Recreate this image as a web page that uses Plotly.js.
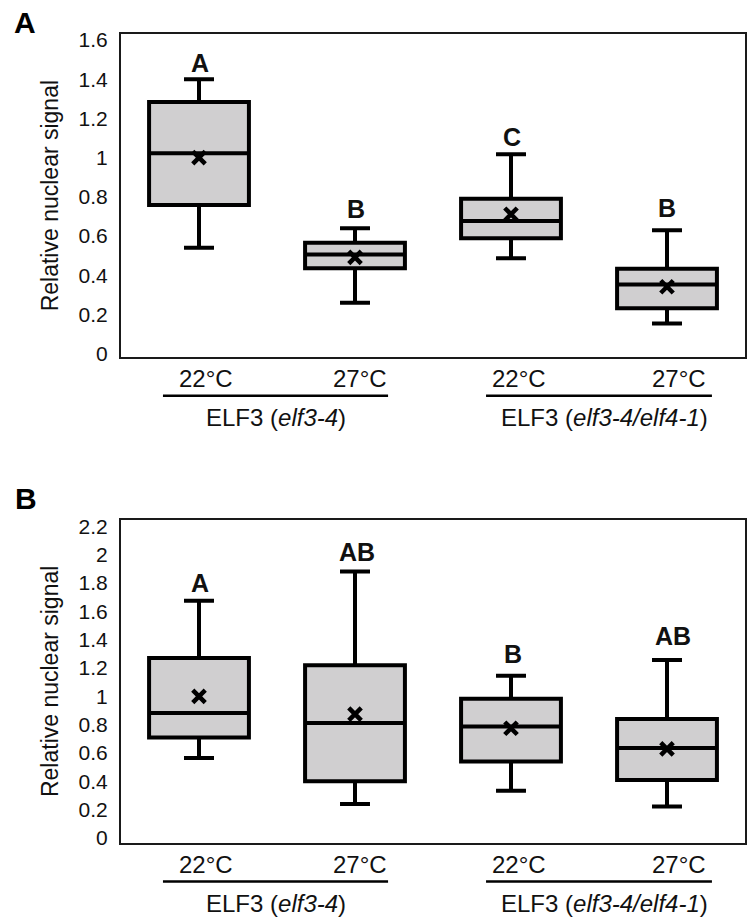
<!DOCTYPE html>
<html>
<head>
<meta charset="utf-8">
<script src="https://cdn.plot.ly/plotly-3.0.1.min.js"></script>
<style>html,body{margin:0;padding:0;background:#fff;}#chart{width:747px;height:922px;}</style>
</head>
<body>
<div id="chart"></div>
<script>
// ---- data ----
const conditions = ['ELF3 (elf3-4) 22°C', 'ELF3 (elf3-4) 27°C', 'ELF3 (elf3-4/elf4-1) 22°C', 'ELF3 (elf3-4/elf4-1) 27°C'];
const temps = ['22°C', '27°C', '22°C', '27°C'];
const genotypes = ['ELF3 (<i>elf3-4</i>)', 'ELF3 (<i>elf3-4/elf4-1</i>)'];
const yTitle = 'Relative nuclear signal';

// Panel A
const lowA  = [0.540, 0.259, 0.486, 0.154];
const q1A   = [0.758, 0.435, 0.588, 0.231];
const medA  = [1.022, 0.506, 0.676, 0.353];
const q3A   = [1.284, 0.566, 0.790, 0.433];
const upA   = [1.400, 0.639, 1.017, 0.629];
const meanA = [1.000, 0.491, 0.711, 0.341];
const lettersA = ['A', 'B', 'C', 'B'];
const ticksA = [0, 0.2, 0.4, 0.6, 0.8, 1, 1.2, 1.4, 1.6];

// Panel B
const lowB  = [0.565, 0.240, 0.334, 0.223];
const q1B   = [0.710, 0.400, 0.541, 0.409];
const medB  = [0.883, 0.812, 0.788, 0.635];
const q3B   = [1.271, 1.219, 0.983, 0.840];
const upB   = [1.675, 1.882, 1.146, 1.257];
const meanB = [1.000, 0.875, 0.775, 0.630];
const lettersB = ['A', 'AB', 'B', 'AB'];
const ticksB = [0, 0.2, 0.4, 0.6, 0.8, 1, 1.2, 1.4, 1.6, 1.8, 2, 2.2];

// ---- styling ----
const FONT = 'Liberation Sans, Arial, Helvetica, sans-serif';
const INK = '#111111';
const FILL = '#d0cfd0';
const letterShiftA = [16, 19, 17, 22];
const letterShiftB = [18, 19, 22, 24];
const letterXShiftB = [1, 2, 2, 6];
const tempXShift = [7, 5, 8, 12];

function boxTrace(xa, ya, low, q1, med, q3, up) {
  return {
    type: 'box', xaxis: xa, yaxis: ya, x: conditions,
    lowerfence: low, q1: q1, median: med, q3: q3, upperfence: up,
    fillcolor: FILL, line: {color: '#000', width: 4},
    width: 0.64, whiskerwidth: 0.3, boxpoints: false,
    hoverinfo: 'skip', showlegend: false
  };
}
function meanTrace(xa, ya, mean) {
  return {
    type: 'scatter', mode: 'markers', xaxis: xa, yaxis: ya, x: conditions, y: mean,
    marker: {symbol: 'x-thin', size: 12.5, color: '#000', line: {color: '#000', width: 4.5}},
    hoverinfo: 'skip', showlegend: false
  };
}

const data = [
  boxTrace('x', 'y', lowA, q1A, medA, q3A, upA),
  meanTrace('x', 'y', meanA),
  boxTrace('x2', 'y2', lowB, q1B, medB, q3B, upB),
  meanTrace('x2', 'y2', meanB)
];

function fmt(v) { return String(Math.round(v * 10) / 10); }

function xAxis(anchor) {
  return {
    anchor: anchor, domain: [0, 1], type: 'category', range: [-0.5, 3.5],
    showticklabels: false, ticks: '', showgrid: false, zeroline: false,
    showline: true, mirror: true, linewidth: 2, linecolor: '#1a1a1a', fixedrange: true
  };
}
function yAxis(anchor, domain, range, ticks) {
  return {
    anchor: anchor, domain: domain, range: range,
    tickmode: 'array', tickvals: ticks, ticktext: ticks.map(fmt),
    ticks: '', ticklabelstandoff: 7,
    tickfont: {family: FONT, size: 21, color: INK},
    showgrid: false, zeroline: false,
    showline: true, mirror: true, linewidth: 2, linecolor: '#1a1a1a', fixedrange: true,
    title: {text: yTitle, font: {family: FONT, size: 23, color: INK}, standoff: 14}
  };
}

const annotations = [];
const shapes = [];
function addPanel(xr, yr, up, letters, shiftY, shiftX, panelLetter, pShiftX, pShiftY) {
  const yd = yr + ' domain';
  for (let i = 0; i < conditions.length; i++) {
    annotations.push({
      xref: xr, yref: yr, x: i, y: up[i], yshift: shiftY[i], xshift: shiftX[i],
      text: letters[i], showarrow: false, xanchor: 'center', yanchor: 'middle',
      font: {family: FONT, size: 25, color: INK, weight: 'bold'}
    });
    annotations.push({
      xref: xr, yref: yd, x: i, y: 0, yshift: -21, xshift: tempXShift[i],
      text: temps[i], showarrow: false, xanchor: 'center', yanchor: 'middle',
      font: {family: FONT, size: 24, color: INK}
    });
  }
  const groupX = [[-0.231, 1.212], [1.840, 3.288]];
  const groupShift = [-1, 15];
  for (let g = 0; g < 2; g++) {
    shapes.push({
      type: 'line', xref: xr, yref: yd, ysizemode: 'pixel', yanchor: 0,
      x0: groupX[g][0], x1: groupX[g][1], y0: -38.5, y1: -38.5,
      line: {color: '#000', width: 2.5}
    });
    annotations.push({
      xref: xr, yref: yd, x: 0.5 + 2 * g, y: 0, yshift: -60.5, xshift: groupShift[g],
      text: genotypes[g], showarrow: false, xanchor: 'center', yanchor: 'middle',
      font: {family: FONT, size: 24, color: INK}
    });
  }
  annotations.push({
    xref: 'paper', yref: yd, x: 0, y: 1, xshift: pShiftX, yshift: pShiftY,
    text: panelLetter, showarrow: false, xanchor: 'center', yanchor: 'middle',
    font: {family: FONT, size: 30, color: '#000', weight: 'bold'}
  });
}
addPanel('x', 'y', upA, lettersA, letterShiftA, [1, 1, 1, 0], 'A', -96, 12);
addPanel('x2', 'y2', upB, lettersB, letterShiftB, letterXShiftB, 'B', -95, 21);

const layout = {
  width: 747, height: 922,
  margin: {l: 121, r: 2, t: 34, b: 79},
  paper_bgcolor: '#fff', plot_bgcolor: '#fff',
  showlegend: false,
  font: {family: FONT, color: INK},
  xaxis: xAxis('y'),
  yaxis: yAxis('x', [0.6004, 1], [-0.019, 1.631], ticksA),
  xaxis2: xAxis('y2'),
  yaxis2: yAxis('x2', [0, 0.3996], [-0.035, 2.247], ticksB),
  annotations: annotations,
  shapes: shapes
};

Plotly.newPlot('chart', data, layout, {displayModeBar: false, staticPlot: true});
</script>
</body>
</html>
